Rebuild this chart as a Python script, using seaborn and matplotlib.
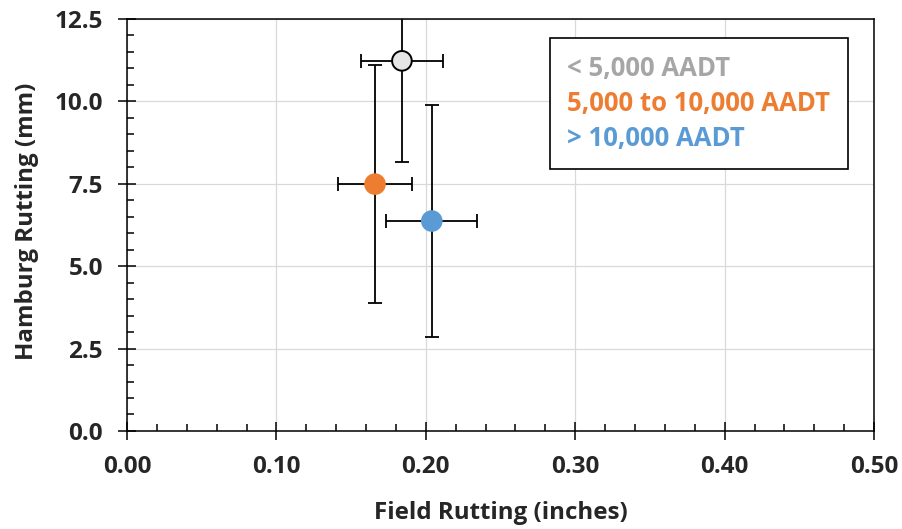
import pandas as pd
import matplotlib
matplotlib.use("Agg")
import matplotlib.pyplot as plt
import seaborn as sns
from matplotlib.lines import Line2D
from matplotlib.ticker import MultipleLocator, FormatStrFormatter

# --- data ---
groups = ["< 5,000 AADT", "5,000 to 10,000 AADT", "> 10,000 AADT"]
field_rut = [0.184, 0.166, 0.204]          # inches
field_err = [0.0275, 0.025, 0.0305]
hamburg_rut = [11.23, 7.49, 6.37]         # mm
hamburg_err = [3.07, 3.62, 3.52]

marker_fill = ["#e7e6e6", "#ed7d31", "#5b9bd5"]
marker_edge = ["black", "#ed7d31", "#5b9bd5"]
text_colors = ["#a6a6a6", "#ed7d31", "#5b9bd5"]

df = pd.DataFrame({"group": groups, "field": field_rut, "hamburg": hamburg_rut})

sns.set_theme(style="white")
plt.rcParams["font.family"] = ["Open Sans", "DejaVu Sans"]
plt.rcParams["font.weight"] = "bold"

fig = plt.figure(figsize=(9.02, 5.29), dpi=100)
ax = fig.add_axes([0.1408, 0.1853, 0.8282, 0.7788])

ax.errorbar(field_rut, hamburg_rut, xerr=field_err, yerr=hamburg_err, fmt="none",
            ecolor="black", elinewidth=1.3, capsize=5, capthick=1.3, zorder=2)
sns.scatterplot(data=df, x="field", y="hamburg", hue="group", palette=dict(zip(groups, marker_fill)),
                s=200, edgecolor=marker_edge, linewidth=1.4, legend=False, zorder=3, ax=ax)

ax.set_xlim(0, 0.5)
ax.set_ylim(0, 12.5)
ax.xaxis.set_major_locator(MultipleLocator(0.1))
ax.xaxis.set_minor_locator(MultipleLocator(0.02))
ax.yaxis.set_major_locator(MultipleLocator(2.5))
ax.yaxis.set_minor_locator(MultipleLocator(0.5))
ax.xaxis.set_major_formatter(FormatStrFormatter("%.2f"))
ax.yaxis.set_major_formatter(FormatStrFormatter("%.1f"))

ax.grid(True, which="major", color="#d9d9d9", linewidth=0.9)
ax.set_axisbelow(True)
for side in ax.spines.values():
    side.set_color("black")
    side.set_linewidth(1.1)

ax.tick_params(which="major", direction="inout", length=12.5, width=1.1, color="black",
               labelsize=17.5, bottom=True, left=True)
ax.tick_params(which="minor", direction="in", length=5, width=1.1, color="black",
               bottom=True, left=True)
ax.tick_params(axis="x", which="major", pad=11)
ax.tick_params(axis="y", which="major", pad=11)

ax.set_xlabel("Field Rutting (inches)", fontsize=17.4, fontweight="bold")
ax.set_ylabel("Hamburg Rutting (mm)", fontsize=17.4, fontweight="bold")
ax.xaxis.set_label_coords(0.5, -0.199)
ax.xaxis.label.set_va("center")
ax.yaxis.set_label_coords(-0.134, 0.51)
ax.yaxis.label.set_va("center")

handles = [Line2D([], [], linestyle="none") for _ in groups]
leg = ax.legend(handles, groups, loc="upper left", bbox_to_anchor=(0.566, 0.954),
                borderaxespad=0, handlelength=0, handletextpad=0, labelcolor=text_colors,
                prop={"size": 18.5, "weight": "bold"}, frameon=True, fancybox=False,
                borderpad=0.68, labelspacing=0.3)
leg.get_frame().set_edgecolor("black")
leg.get_frame().set_linewidth(1.2)
leg.get_frame().set_alpha(1)

fig.savefig("out.png", dpi=100)
